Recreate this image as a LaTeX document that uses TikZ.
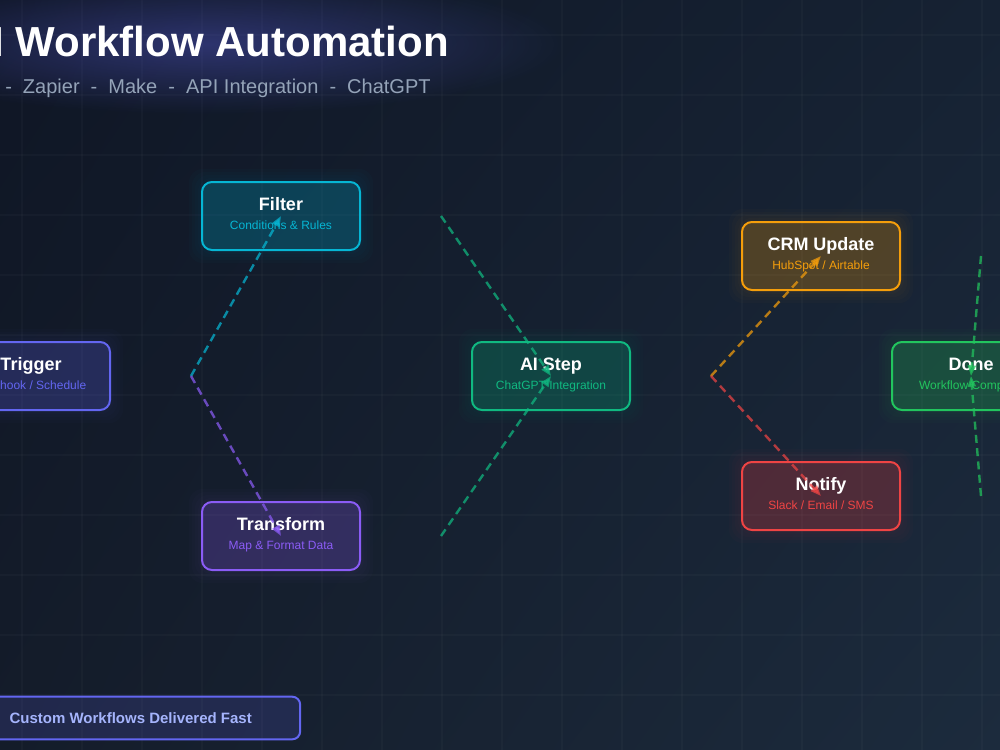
\documentclass[tikz,border=0pt]{standalone}
\usepackage{fontspec}
\setmainfont{Liberation Sans}
\usetikzlibrary{arrows.meta,calc,fadings,shadings}
\definecolor{cyanc}{HTML}{06B6D4}
\definecolor{indigoc}{HTML}{6366F1}
\definecolor{purplec}{HTML}{8B5CF6}
\definecolor{emeraldc}{HTML}{10B981}
\definecolor{amberc}{HTML}{F59E0B}
\definecolor{redc}{HTML}{EF4444}
\definecolor{greenc}{HTML}{22C55E}
\definecolor{slatec}{HTML}{94A3B8}
\definecolor{lightindigo}{HTML}{A5B4FC}
\definecolor{bgUL}{HTML}{0F1625}
\definecolor{bgUR}{HTML}{162233}
\definecolor{bgLL}{HTML}{141C2A}
\definecolor{bgLR}{HTML}{1C2B3D}
\tikzfading[name=glowfade, inner color=transparent!30, outer color=transparent!100]
\pgfdeclarelayer{back}
\pgfdeclarelayer{glowlayer}
\pgfsetlayers{back,glowlayer,main}
\newcommand\boxglow[2]{%
  \begin{pgfonlayer}{glowlayer}
    \foreach \k in {3,6,9,12}{
      \fill[#2, opacity=0.018, rounded corners=10pt]
        ($(#1.south west)+(-\k,\k)$) rectangle ($(#1.north east)+(\k,-\k)$);
    }
  \end{pgfonlayer}}
\newcommand\boxtext[4]{%
  \node[ttl] (#1-t) at ($(#1.center)+(0,-6)$) {#2};
  \node[sub, text=#4] (#1-s) at ($(#1.center)+(0,13.5)$) {#3};}
\begin{document}
\begin{tikzpicture}[x=0.75pt,y=-0.75pt,
  stepbox/.style={draw=#1, line width=1.5pt, fill=#1, fill opacity=0.2,
    draw opacity=1, rounded corners=7.5pt, minimum width=118.5pt,
    minimum height=51pt, inner sep=0pt},
  ttl/.style={anchor=base, inner sep=0pt, text=white,
    font=\bfseries\fontsize{13.5}{16}\selectfont},
  sub/.style={anchor=base, inner sep=0pt, font=\fontsize{9}{11}\selectfont},
  flow/.style={draw=#1, opacity=0.72, line width=1.8pt,
    dash pattern=on 6pt off 4pt, -{Triangle[length=8pt,width=6pt]}},
  gridline/.style={draw=white, opacity=0.022, line width=1.5pt}]
\useasboundingbox (0,0) rectangle (1000,750);
\begin{pgfonlayer}{back}
  \shade[upper left=bgUL, upper right=bgUR, lower left=bgLL, lower right=bgLR]
    (0,0) rectangle (1000,750);
  \foreach \i in {0,...,16}{\draw[gridline] ({21.7+60*\i},0) -- ++(0,750);}
  \foreach \i in {0,...,12}{\draw[gridline] (0,{35+60*\i}) -- ++(1000,0);}
  \fill[indigoc, path fading=glowfade, fill opacity=0.5]
    (205,44) ellipse [x radius=360, y radius=70];
\end{pgfonlayer}

% title
\node[anchor=base east, inner sep=0pt, text=white,
  font=\bfseries\fontsize{31.5}{36}\selectfont] (title) at (449,56)
  {AI Workflow Automation};
\node[anchor=base west, inner sep=0pt, text=slatec,
  font=\fontsize{15}{18}\selectfont] (subtitle) at (5,93)
  {-\hspace{8.3pt}Zapier\hspace{8.3pt}-\hspace{8.3pt}Make\hspace{8.3pt}-\hspace{8.3pt}API Integration\hspace{8.3pt}-\hspace{8.3pt}ChatGPT};

% boxes
\node[stepbox=indigoc] (trigger) at (31,376) {};
\node[stepbox=cyanc] (filter) at (281,216) {};
\node[stepbox=purplec] (transform) at (281,536) {};
\node[stepbox=emeraldc] (ai) at (551,376) {};
\node[stepbox=amberc] (crm) at (821,256) {};
\node[stepbox=redc] (notify) at (821,496) {};
\node[stepbox=greenc] (done) at (971,376) {};

\boxglow{trigger}{indigoc}
\boxglow{filter}{cyanc}
\boxglow{transform}{purplec}
\boxglow{ai}{emeraldc}
\boxglow{crm}{amberc}
\boxglow{notify}{redc}
\boxglow{done}{greenc}

\boxtext{trigger}{Trigger}{Webhook / Schedule}{indigoc}
\boxtext{filter}{Filter}{Conditions \& Rules}{cyanc}
\boxtext{transform}{Transform}{Map \& Format Data}{purplec}
\boxtext{ai}{AI Step}{ChatGPT Integration}{emeraldc}
\boxtext{crm}{CRM Update}{HubSpot / Airtable}{amberc}
\boxtext{notify}{Notify}{Slack / Email / SMS}{redc}
\boxtext{done}{Done}{Workflow Complete}{greenc}

% connectors
\coordinate (c1) at ($(trigger.east)+(80,0)$);
\coordinate (c2) at ($(filter.east)+(80,0)$);
\coordinate (c3) at ($(transform.east)+(80,0)$);
\coordinate (c4) at ($(ai.east)+(80,0)$);
\coordinate (c5) at ($(crm.east)+(80,0)$);
\coordinate (c6) at ($(notify.east)+(80,0)$);
\draw[flow=cyanc] (c1) -- (filter.center);
\draw[flow=purplec] (c1) -- (transform.center);
\draw[flow=emeraldc] (c2) -- (ai.center);
\draw[flow=emeraldc] (c3) -- (ai.center);
\draw[flow=amberc] (c4) -- (crm.center);
\draw[flow=redc] (c4) -- (notify.center);
\draw[flow=greenc] (c5) -- (done.center);
\draw[flow=greenc] (c6) -- (done.center);

% footer
\node[draw=indigoc, line width=1.5pt, fill=indigoc, fill opacity=0.17,
  draw opacity=1, rounded corners=6pt, minimum width=239.5pt,
  minimum height=32pt, inner sep=0pt] (foot) at (140.5,718) {};
\node[anchor=base west, inner sep=0pt, text=lightindigo,
  font=\bfseries\fontsize{11.25}{13}\selectfont] (foot-t) at (9.3,723)
  {Custom Workflows Delivered Fast};
\end{tikzpicture}
\end{document}
